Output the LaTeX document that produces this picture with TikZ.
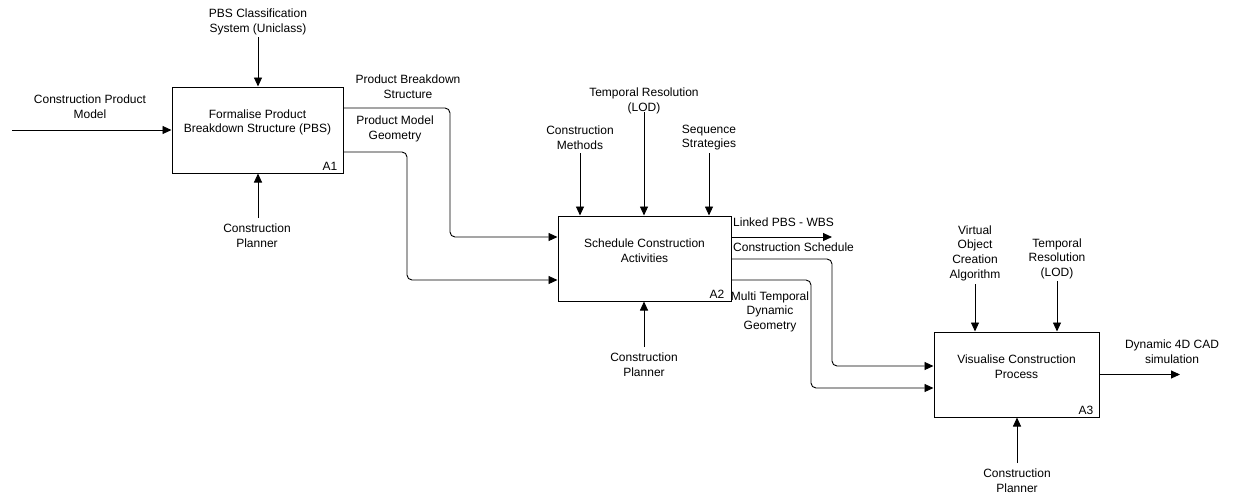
\documentclass[tikz,border=0pt]{standalone}
\usepackage{fontspec}
\setmainfont{Liberation Sans}
\usetikzlibrary{arrows.meta}
\begin{document}
\begin{tikzpicture}[x=1pt,y=-1pt,
  every node/.style={font=\fontsize{12}{14.6}\selectfont},
  box/.style={draw=black,line width=1pt,rectangle,inner sep=0pt},
  boxtext/.style={align=center,inner sep=1pt},
  tag/.style={anchor=base east,inner sep=0pt},
  lbl/.style={align=center,inner sep=1pt},
  arr/.style={draw=black,line width=0.9pt,rounded corners=5pt,
    -{Triangle[length=9pt,width=8pt]}}]
\useasboundingbox (0,0) rectangle (1247,493);

% activity boxes
\node[box,minimum width=171pt,minimum height=86pt] (a1) at (257.5,130) {};
\node[box,minimum width=173pt,minimum height=85pt] (a2) at (644.5,258.5) {};
\node[box,minimum width=165pt,minimum height=85pt] (a3) at (1016.5,374.5) {};

\node[boxtext] (a1t) at (257.5,122.5) {Formalise Product\\Breakdown Structure (PBS)};
\node[boxtext] (a2t) at (644.5,250.5) {Schedule Construction\\Activities};
\node[boxtext] (a3t) at (1016.5,366.5) {Visualise Construction\\Process};

\node[tag] (a1n) at ([xshift=-6pt,yshift=3pt]a1.south east) {A1};
\node[tag] (a2n) at ([xshift=-7pt,yshift=3pt]a2.south east) {A2};
\node[tag] (a3n) at ([xshift=-6pt,yshift=3pt]a3.south east) {A3};

% free ends of the boundary arrows
\coordinate (i1) at (12,130);
\coordinate (k1) at (258,37);
\coordinate (m1) at (258,218);
\coordinate (k2a) at (580,153);
\coordinate (k2b) at (644,112);
\coordinate (k2c) at (709,153);
\coordinate (m2) at (644,347);
\coordinate (o2) at (832,237);
\coordinate (k3a) at (975,284);
\coordinate (k3b) at (1057,281);
\coordinate (m3) at (1017,463);
\coordinate (o3) at (1180,374.5);

% labels
\node[lbl] (li1) at (90,107) {Construction Product\\Model};
\node[lbl] (lk1) at (258,21.8) {PBS Classification\\System (Uniclass)};
\node[lbl] (lm1) at (257,236) {Construction\\Planner};
\node[lbl] (lpbs) at (408,86.5) {Product Breakdown\\Structure};
\node[lbl] (lgeo) at (395,129) {Product Model\\Geometry};
\node[lbl] (lk2a) at (580,137.5) {Construction\\Methods};
\node[lbl] (lk2b) at (644,101) {Temporal Resolution\\(LOD)};
\node[lbl] (lk2c) at (709,137.5) {Sequence\\Strategies};
\node[lbl] (lm2) at (644,365) {Construction\\Planner};
\node[lbl,anchor=west] (llink) at (732,222) {Linked PBS - WBS};
\node[lbl,anchor=west] (lsched) at (732,247) {Construction Schedule};
\node[lbl] (lmulti) at (770,311.5) {Multi Temporal\\Dynamic\\Geometry};
\node[lbl] (lk3a) at (975,253) {Virtual\\Object\\Creation\\Algorithm};
\node[lbl] (lk3b) at (1057,258.5) {Temporal\\Resolution\\(LOD)};
\node[lbl] (lm3) at (1017,480.5) {Construction\\Planner};
\node[lbl] (lo3) at (1172,352) {Dynamic 4D CAD\\simulation};

% A1 boundary arrows
\draw[arr] (i1) -- (i1 -| a1.west);
\draw[arr] (k1) -- (k1 |- a1.north);
\draw[arr] (m1) -- (m1 |- a1.south);

% A1 -> A2
\draw[arr] ([yshift=22pt]a1.east) -- (450,108) -- (450,237) -- ([yshift=21.5pt]a2.west);
\draw[arr] ([yshift=-22pt]a1.east) -- (407,152) -- (407,280) -- ([yshift=-21.5pt]a2.west);

% A2 boundary arrows
\draw[arr] (k2a) -- (k2a |- a2.north);
\draw[arr] (k2b) -- (k2b |- a2.north);
\draw[arr] (k2c) -- (k2c |- a2.north);
\draw[arr] (m2) -- (m2 |- a2.south);
\draw[arr] (o2 -| a2.east) -- (o2);

% A2 -> A3
\draw[arr] ([yshift=-0.5pt]a2.east) -- (832,259) -- (832,366) -- ([yshift=8.5pt]a3.west);
\draw[arr] ([yshift=-21.5pt]a2.east) -- (811,280) -- (811,388) -- ([yshift=-13.5pt]a3.west);

% A3 boundary arrows
\draw[arr] (k3a) -- (k3a |- a3.north);
\draw[arr] (k3b) -- (k3b |- a3.north);
\draw[arr] (m3) -- (m3 |- a3.south);
\draw[arr] (a3.east) -- (o3);
\end{tikzpicture}
\end{document}
